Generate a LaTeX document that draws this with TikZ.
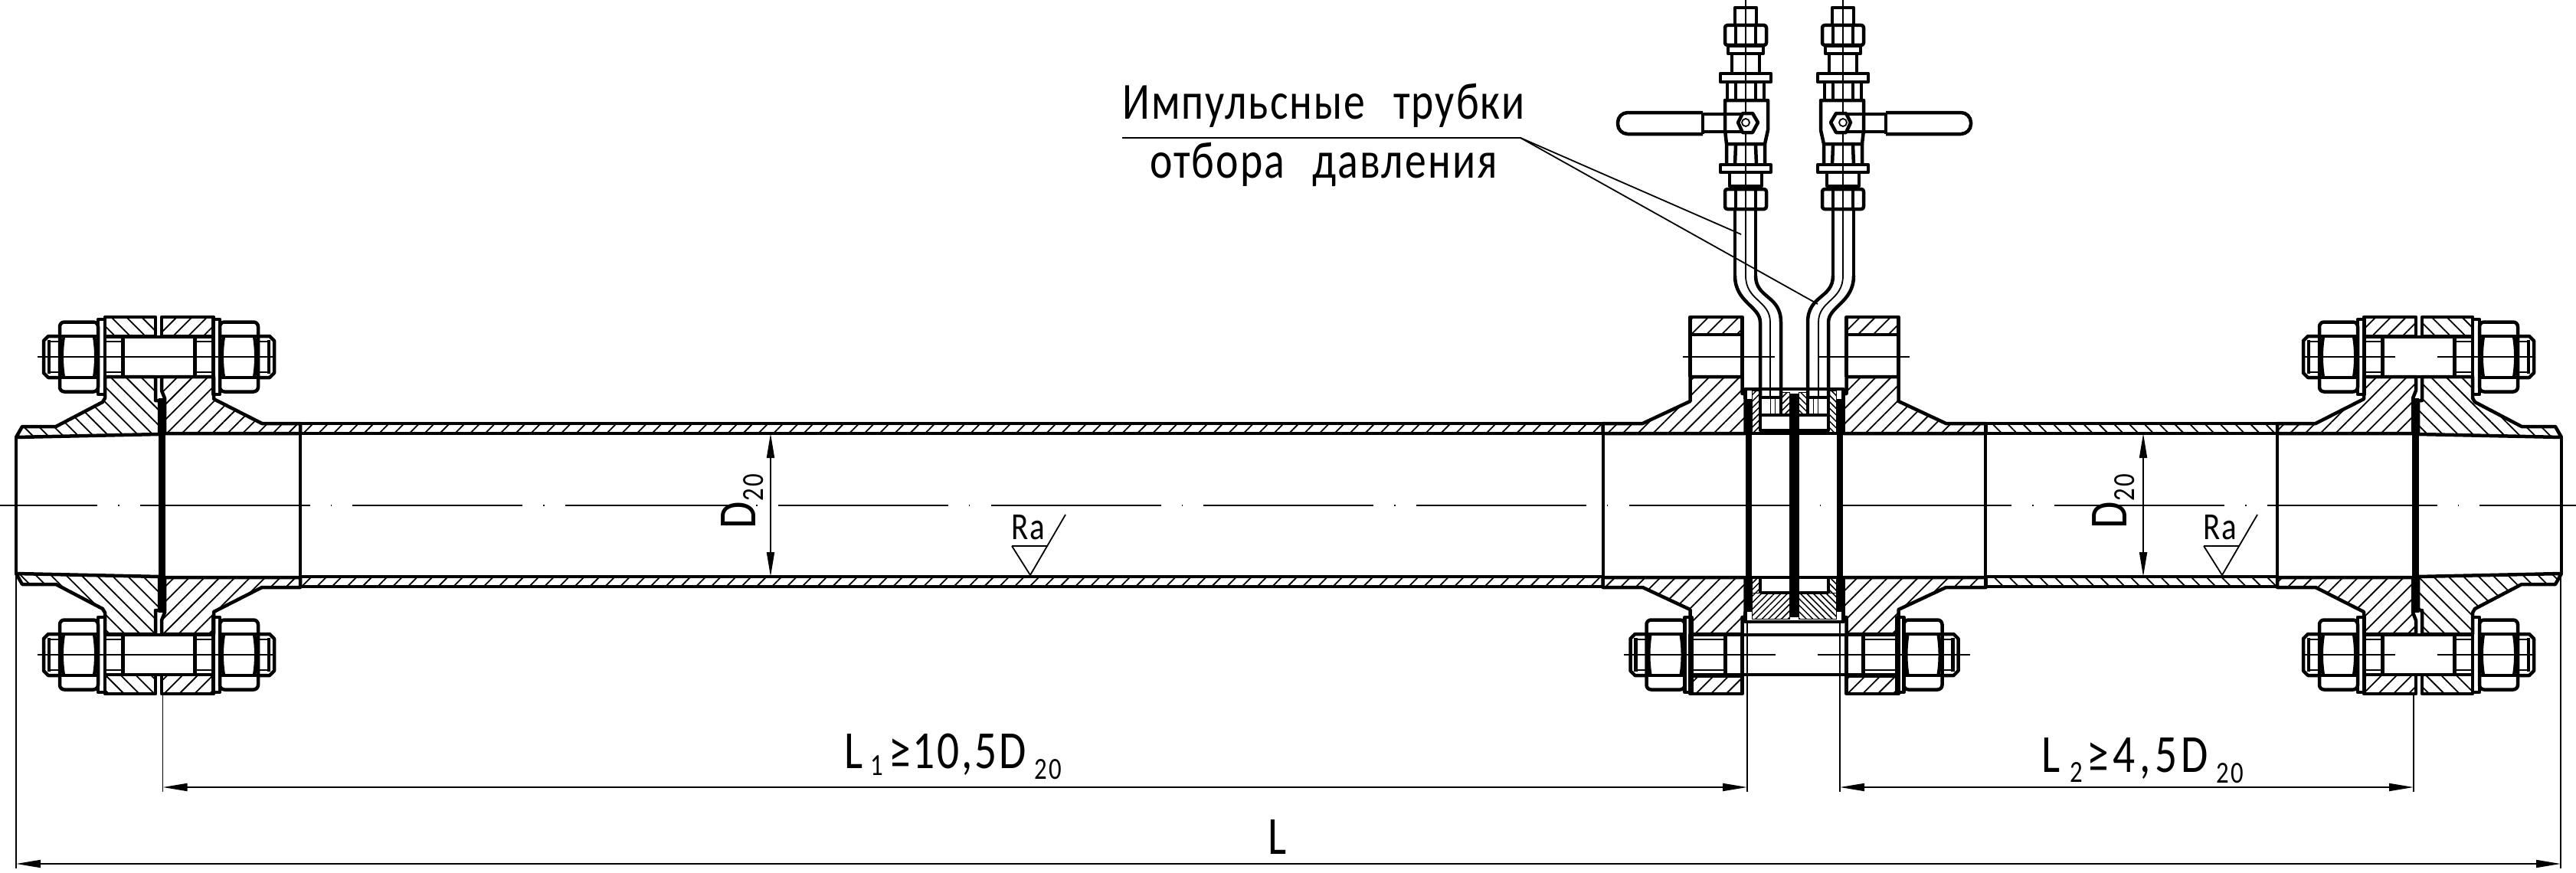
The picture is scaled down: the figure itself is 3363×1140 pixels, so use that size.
\documentclass[tikz,border=0pt]{standalone}
\usepackage{fontspec}
\setmainfont[FakeStretch=0.82]{Carlito}
\usetikzlibrary{patterns.meta,arrows.meta}

\tikzset{
  stout/.style={line width=4.5pt,line join=round},
  fine/.style={line width=1.8pt},
  axisline/.style={fine,dash pattern=on 222pt off 27pt on 1.5pt off 27.2pt,dash phase=95pt},
  midline/.style={fine},
  hatchback/.style={pattern={Lines[angle=-45,distance=14pt,line width=1.8pt]}},
  hatchfwd/.style={pattern={Lines[angle=45,distance=14pt,line width=1.8pt]}},
  hatchbacksm/.style={pattern={Lines[angle=-45,distance=6pt,line width=1.5pt]}},
  hatchfwdsm/.style={pattern={Lines[angle=45,distance=6pt,line width=1.5pt]}},
  dimline/.style={fine,{Stealth[inset=0pt,length=32pt,width=10pt]}-{Stealth[inset=0pt,length=32pt,width=10pt]}},
  dimtext/.style={inner sep=0pt,anchor=base west,font=\addfontfeature{LetterSpace=4}\fontsize{70}{70}\selectfont},
  subtext/.style={inner sep=0pt,anchor=base west,font=\addfontfeature{LetterSpace=6}\fontsize{40}{40}\selectfont},
  notetext/.style={inner sep=0pt,anchor=base,font=\addfontfeature{LetterSpace=3}\fontsize{68}{68}\selectfont},
  marktext/.style={inner sep=0pt,anchor=base west,font=\addfontfeature{LetterSpace=5}\fontsize{50}{50}\selectfont}
}

% bolt with two nuts: centre x, centre y, half span, shoulder
\newcommand{\boltset}[4]{
  \begin{scope}[shift={(#1,#2)}]
    \draw[stout] (-#3,-26) -- (#3,-26) (-#3,26) -- (#3,26);
    \foreach \s in {1,-1}{
      \begin{scope}[xscale=\s]
        \draw[stout] (#4,-26) -- (#4,26);
        \draw[fine] (#4,-20) -- (#3,-20) (#4,20) -- (#3,20);
        \draw[stout] (#3,-49) rectangle ({#3+9},49);
        \draw[stout,rounded corners=6pt] ({#3+9},-45.5) rectangle ({#3+59},45.5);
        \draw[stout] ({#3+11},-27) -- ({#3+57},-27) ({#3+11},27) -- ({#3+57},27);
        \draw[stout] ({#3+14},-27) .. controls ({#3+11},-10) and ({#3+11},10) .. ({#3+14},27);
        \draw[stout] ({#3+54},-27) .. controls ({#3+57},-10) and ({#3+57},10) .. ({#3+54},27);
        \draw[stout] ({#3+59},-27) -- ({#3+74},-27) -- ({#3+80},-21) -- ({#3+80},21) -- ({#3+74},27) -- ({#3+59},27);
        \draw[fine] ({#3+59},-20) -- ({#3+73},-20) ({#3+59},20) -- ({#3+73},20);
        \draw[stout] ({#3+73},-22) -- ({#3+73},22);
      \end{scope}
    }
  \end{scope}
}

% end joint, left one; the right one is its mirror image
\newcommand{\flangeend}{
  \foreach \v in {1,-1}{
    \begin{scope}[shift={(0,660)},yscale=\v]
      \draw[stout,hatchback] (137,-246) -- (203,-246) -- (203,-221) -- (137,-221) -- cycle;
      \draw[stout,hatchfwd] (211,-246) -- (279,-246) -- (279,-221) -- (211,-221) -- cycle;
      \draw[stout] (137,-221) -- (137,-168) (279,-221) -- (279,-168);
      \draw[stout,hatchback] (21,-89) -- (29,-103) -- (73,-103) -- (134,-135) -- (137,-140) -- (137,-168)
        -- (203,-168) -- (203,-137) -- (208,-137) -- (208,-93) -- cycle;
      \draw[stout,hatchfwd] (211,-168) -- (279,-168) -- (279,-139) -- (342,-107) -- (392,-107) -- (392,-94)
        -- (215,-94) -- (215,-140) -- (211,-150) -- cycle;
    \end{scope}
  }
  \draw[stout] (21,571) -- (21,749);
  \draw[line width=9pt] (211.5,520) -- (211.5,800);
  \draw[stout] (392,553) -- (392,767);
  \boltset{207.5}{466}{70.5}{47}
  \boltset{207.5}{855}{70.5}{47}
}

% shut-off valve on its tube, lever to the left
\newcommand{\valveset}{
  \draw[fine] (0,0) -- (0,360);
  \draw[stout] (-14,33) -- (-14,10) -- (14,10) -- (14,33);
  \draw[stout,rounded corners=3pt] (-27,33) rectangle (27,59);
  \draw[stout] (-13,35) -- (-13,57) (13,35) -- (13,57);
  \draw[stout] (-23,59) -- (-23,70) -- (23,70) -- (23,59);
  \draw[stout] (-23,60) -- (23,60);
  \draw[stout] (-18,70) -- (-18,96) (18,70) -- (18,96);
  \draw[stout] (-33,96) rectangle (33,107);
  \draw[stout] (-24,107) -- (-24,131) (24,107) -- (24,131) (-13,107) -- (-13,131) (13,107) -- (13,131);
  \draw[stout] (-27,131) -- (-27,170) -- (-25,188) -- (25,188) -- (29,170) -- (29,131) -- cycle;
  \draw[stout] (-25,188) -- (-25,215) (25,188) -- (25,215) (-13,190) -- (-14,215) (13,190) -- (14,215);
  \draw[stout] (-33,215) rectangle (33,225);
  \draw[stout] (-21,225) -- (-21,243) -- (21,243) -- (21,225);
  \draw[stout,rounded corners=3pt] (-27,247) rectangle (27,273);
  \draw[stout] (-13,249) -- (-13,271) (13,249) -- (13,271);
  \draw[stout,rounded corners=13pt] (-56,147) -- (-167,147) -- (-167,175) -- (-56,175);
  \draw[stout] (-56,147) -- (-56,175);
  \draw[stout] (-56,149) -- (9,149) (-56,172) -- (9,172);
  \draw[stout,fill=white] (16,160) -- (9,148) -- (-4,148) -- (-10,160) -- (-4,173) -- (9,173) -- cycle;
  \draw[fine,fill=white] (0,160) circle (5);
  \draw[stout] (-14,273) -- (-14,360) (13,273) -- (13,360);
}

% impulse tube below the valve
\newcommand{\tubeset}{
  \draw[stout] (-14,360) .. controls (-14,395) and (19,400) .. (19,421) -- (19,519);
  \draw[stout] (13,360) .. controls (13,390) and (46,385) .. (46,421) -- (46,519);
  \draw[fine] (0,360) .. controls (0,393) and (32,392) .. (32,421) -- (32,519);
}

\begin{document}
\begin{tikzpicture}[x=1pt,y=-1pt]
  \useasboundingbox (0,0) rectangle (3363,1140);

  % pipe runs
  \draw[stout,hatchfwd] (392,553) rectangle (2093,566);
  \draw[stout,hatchfwd] (392,753) rectangle (2093,766);
  \draw[stout,hatchback] (2592,553) rectangle (2973,566);
  \draw[stout,hatchback] (2592,753) rectangle (2973,766);
  \draw[stout] (2093,553) -- (2093,766) (2592,553) -- (2592,766);

  \flangeend
  \begin{scope}[shift={(3365,0)},xscale=-1]
    \flangeend
  \end{scope}

  % flanges of the measuring section
  \foreach \h in {1,-1}{
    \foreach \v in {1,-1}{
      \begin{scope}[shift={(2342.5,660)},xscale=\h,yscale=\v]
        \draw[stout,hatchfwd] (-136,-246) -- (-68,-246) -- (-68,-223) -- (-136,-223) -- cycle;
        \draw[stout] (-136,-223) -- (-136,-168) (-68,-223) -- (-68,-168);
        \draw[stout,hatchfwd] (-136,-168) -- (-68,-168) -- (-68,-146) -- (-64,-146) -- (-64,-94) -- (-250,-94)
          -- (-250,-107) -- (-198,-107) -- (-136,-136) -- cycle;
      \end{scope}
    }
  }

  % orifice chamber
  \begin{scope}[shift={(2342.5,660)}]
    \draw[stout] (-64,-139) -- (-64,-152) -- (64,-152) -- (64,-139);
    \draw[stout] (-64,139) -- (-64,152) -- (64,152) -- (64,139);
    \draw[hatchfwdsm] (-55,-150) rectangle (-45,-94);
    \draw[hatchbacksm] (45,-150) rectangle (55,-94);
    \draw[hatchfwdsm] (-17,-148) rectangle (-6,-118);
    \draw[hatchbacksm] (6,-148) rectangle (17,-118);
    \draw[hatchfwdsm] (-55,94) rectangle (-45,114);
    \draw[hatchbacksm] (45,94) rectangle (55,114);
    \draw[hatchfwdsm] (-55,114) rectangle (-6,148);
    \draw[hatchbacksm] (6,114) rectangle (55,148);
    \draw[stout] (-44.5,-118) rectangle (44.5,-98);
    \draw[stout] (-44.5,114) -- (44.5,114) (-44.5,94) -- (-44.5,114) (44.5,94) -- (44.5,114);
    \draw[stout] (-64,-94) -- (64,-94) (-64,94) -- (64,94);
    \draw[stout] (-44.5,-141) -- (-44.5,-118) (-17.5,-141) -- (-17.5,-118) (-44.5,-141) -- (-17.5,-141);
    \draw[stout] (17.5,-141) -- (17.5,-118) (44.5,-141) -- (44.5,-118) (17.5,-141) -- (44.5,-141);
    \draw[fine] (-31,-141) -- (-31,-118) (-25,-141) -- (-25,-118) (31,-141) -- (31,-118) (25,-141) -- (25,-118);
    \draw[line width=8pt] (-59.5,-139) -- (-59.5,139) (59.5,-139) -- (59.5,139);
    \draw[line width=13pt] (0,-146) -- (0,146);
  \end{scope}
  \boltset{2342.5}{855}{134}{90}

  % tubes and valves
  \begin{scope}[shift={(2279,0)}]
    \valveset
    \tubeset
  \end{scope}
  \begin{scope}[shift={(2406,0)},xscale=-1]
    \valveset
    \tubeset
  \end{scope}

  % centre lines
  \draw[axisline] (0,660) -- (3363,660);
  \draw[midline] (49,466) -- (359,466);
  \draw[midline] (49,855) -- (359,855);
  \draw[midline] (3006,466) -- (3127,466) (3182,466) -- (3310,466);
  \draw[midline] (3006,855) -- (3127,855) (3182,855) -- (3310,855);
  \draw[midline] (2197,466) -- (2317,466) (2373,466) -- (2493,466);
  \draw[midline] (2120,855) -- (2318,855) (2373,855) -- (2572,855);

  % leaders
  \coordinate (shelfa) at (1465,180);
  \coordinate (shelfb) at (1985,180);
  \coordinate (tubeleft) at (2273,306);
  \coordinate (tuberight) at (2373,397);
  \draw[fine] (shelfa) -- (shelfb) -- (tubeleft);
  \draw[fine] (shelfb) -- (tuberight);
  \node[notetext] (notea) at (1728,155) {Импульсные\hspace{22pt} трубки};
  \node[notetext] (noteb) at (1728,232) {отбора\hspace{22pt} давления};

  % dimensions
  \coordinate (lstart) at (21,1128);
  \coordinate (lend) at (3343,1128);
  \coordinate (lastart) at (212.5,1028);
  \coordinate (laend) at (2281,1028);
  \coordinate (lbstart) at (2402,1028);
  \coordinate (lbend) at (3151,1028);
  \draw[fine] (21,750) -- (21,1134) (3343,750) -- (3343,1134);
  \draw[fine] (212.5,905) -- (212.5,1034) (3151,905) -- (3151,1034);
  \draw[fine] (2281,811) -- (2281,1034) (2402,811) -- (2402,1034);
  \draw[dimline] (lstart) -- (lend);
  \draw[dimline] (lastart) -- (laend);
  \draw[dimline] (lbstart) -- (lbend);

  \node[dimtext] (labela) at (1102,1003) {L};
  \node[subtext] (suba) at (1136,1012) {1};
  \node[dimtext] (valuea) at (1160,1003) {≥10,5D};
  \node[subtext] (subb) at (1350,1017) {20};
  \node[dimtext] (labelb) at (2665,1008) {L};
  \node[subtext] (subc) at (2702,1021) {2};
  \node[dimtext] (valueb) at (2724,1008) {\addfontfeature{LetterSpace=8}≥4,5D};
  \node[subtext] (subd) at (2893,1022) {20};
  \node[dimtext] (labeltotal) at (1655,1115) {L};

  % bore and surface marks
  \foreach \px/\rx/\dx/\name in {1006/1345/986/one,2798/2901/2776/two}{
    \coordinate (bore\name a) at (\px,566);
    \coordinate (bore\name b) at (\px,753);
    \draw[dimline] (bore\name a) -- (bore\name b);
    \node[dimtext,rotate=90] (dia\name) at (\dx,691) {D};
    \node[subtext,rotate=90] (dias\name) at ({\dx+10},655) {20};
    \coordinate (mark\name) at (\rx,751);
    \draw[fine] ({\rx-24},713) -- ({\rx+23},713) (mark\name) -- ({\rx-24},713) (mark\name) -- ({\rx+46},672);
    \node[marktext] (rough\name) at ({\rx-25},704) {Ra};
  }
\end{tikzpicture}
\end{document}
